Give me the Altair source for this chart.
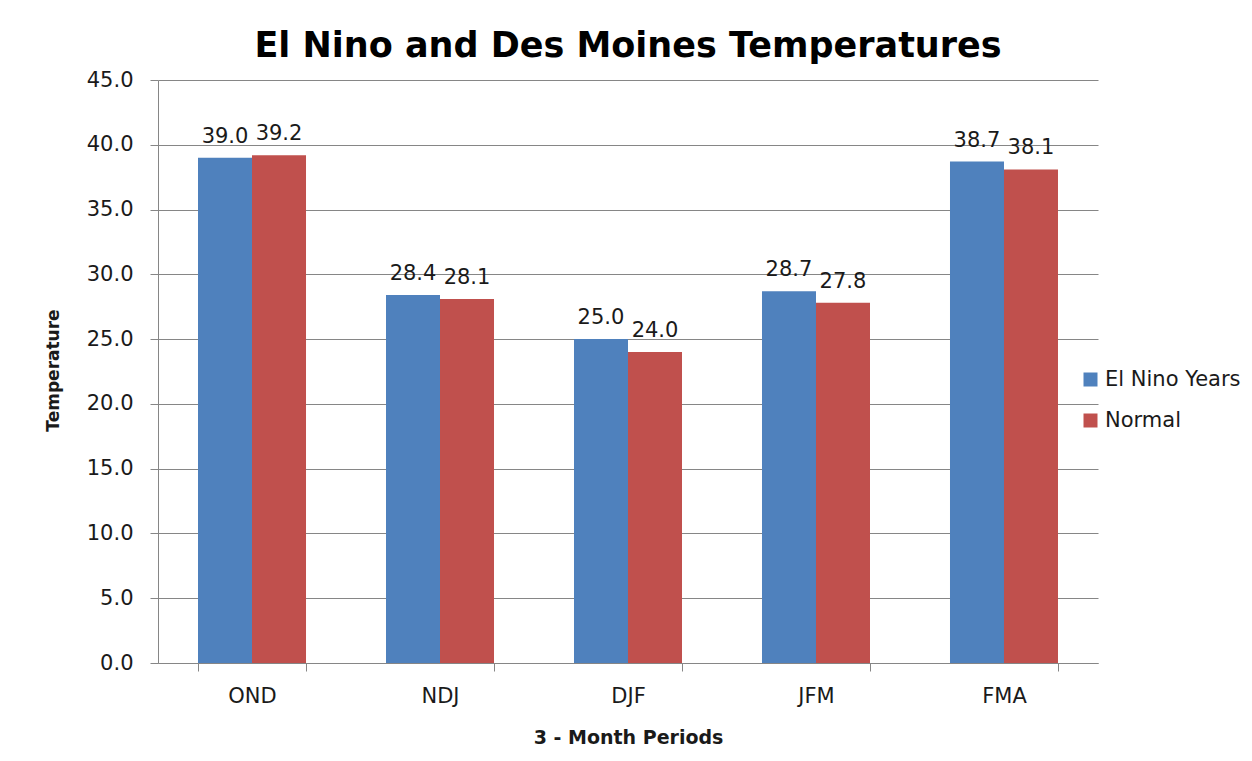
import altair as alt
import pandas as pd

periods = ["OND", "NDJ", "DJF", "JFM", "FMA"]
series_names = ["El Nino Years", "Normal"]
el_nino = [39.0, 28.4, 25.0, 28.7, 38.7]
normal = [39.2, 28.1, 24.0, 27.8, 38.1]
y_ticks = [0, 5, 10, 15, 20, 25, 30, 35, 40, 45]
colors = ["#4F81BD", "#C0504D"]

rows = []
for p, a, b in zip(periods, el_nino, normal):
    rows.append({"Period": p, "Series": series_names[0], "Temp": a})
    rows.append({"Period": p, "Series": series_names[1], "Temp": b})
df = pd.DataFrame(rows)

FONT = "DejaVu Sans"
GRAY = "#868686"

x_enc = alt.X(
    "Period:N",
    sort=periods,
    scale=alt.Scale(paddingInner=0.4255, paddingOuter=0.2128),
    axis=alt.Axis(
        title="3 - Month Periods",
        labelAngle=0,
        labelFont=FONT,
        labelFontSize=21,
        labelColor="#1a1a1a",
        labelPadding=14,
        tickSize=8,
        tickColor=GRAY,
        tickBand="extent",
        domainColor=GRAY,
        grid=False,
        titleFont=FONT,
        titleFontSize=19,
        titleFontWeight="bold",
        titleColor="#1a1a1a",
        titleY=74,
        titleBaseline="middle",
    ),
)
xoff = alt.XOffset("Series:N", sort=series_names)

y_enc = alt.Y(
    "Temp:Q",
    scale=alt.Scale(domain=[0, 45]),
    axis=alt.Axis(
        title="Temperature",
        values=y_ticks,
        format=".1f",
        labelFont=FONT,
        labelFontSize=21,
        labelColor="#1a1a1a",
        labelPadding=17,
        tickSize=8,
        tickColor=GRAY,
        domainColor=GRAY,
        gridColor=GRAY,
        titleFont=FONT,
        titleFontSize=17,
        titleFontWeight="bold",
        titleColor="#1a1a1a",
        titleX=-96,
        titleY=290,
        titleBaseline="bottom",
    ),
)

bars = alt.Chart(df).mark_bar().encode(
    x=x_enc,
    xOffset=xoff,
    y=y_enc,
    color=alt.Color(
        "Series:N",
        sort=series_names,
        scale=alt.Scale(domain=series_names, range=colors),
        legend=alt.Legend(
            title=None,
            orient="none",
            legendX=922,
            legendY=289,
            symbolType="square",
            symbolSize=196,
            symbolStrokeWidth=0,
            labelFont=FONT,
            labelFontSize=21,
            labelColor="#1a1a1a",
            rowPadding=19,
            labelOffset=4,
        ),
    ),
)

labels = alt.Chart(df).mark_text(
    font=FONT, fontSize=21, color="#1a1a1a", baseline="alphabetic", dy=-15
).encode(
    x=alt.X("Period:N", sort=periods),
    xOffset=xoff,
    y="Temp:Q",
    text=alt.Text("Temp:Q", format=".1f"),
)

chart = (
    alt.layer(bars, labels)
    .properties(
        width=940,
        height=583,
        autosize=alt.AutoSizeParams(type="none"),
        padding={"left": 150, "top": 72, "right": 146, "bottom": 90},
        title=alt.TitleParams(
            "El Nino and Des Moines Temperatures",
            font=FONT,
            fontSize=35,
            fontWeight="bold",
            color="#000000",
            anchor="middle",
            offset=5,
        ),
    )
    .configure_view(stroke=None)
    .configure_scale(offsetBandPaddingInner=0, offsetBandPaddingOuter=0)
)

chart.save("out.html", embed_options={"renderer": "svg", "actions": False})
